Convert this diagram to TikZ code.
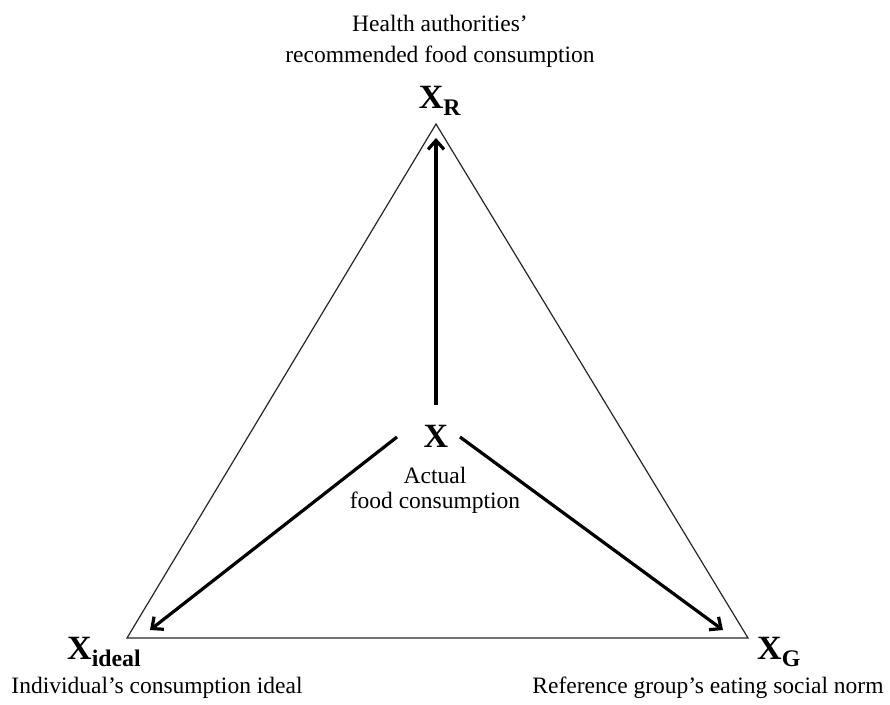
\documentclass[tikz,border=0pt]{standalone}
\usepackage{fontspec}
\setmainfont{Liberation Serif}
\usetikzlibrary{arrows.meta}
\begin{document}
\begin{tikzpicture}[x=1pt,y=-1pt,
  lbl/.style={font=\fontsize{23.5}{31}\selectfont, align=center, inner sep=0pt},
  var/.style={font=\fontsize{34}{38}\selectfont\bfseries, inner sep=0pt},
  tri/.style={draw=black!85, line width=1.2pt},
  arr/.style={draw=black, line width=3.2pt, -{Straight Barb[length=9pt,width=16pt,line width=3.2pt]}}]
\useasboundingbox (0,0) rectangle (890,704);
\coordinate (R) at (436,124);
\coordinate (I) at (127,638);
\coordinate (G) at (748,638);
\draw[tri] (R) -- (I) -- (G) -- cycle;
\node[var] (x) at (436,436) {X};
\node[var] (xr) at (440,101) {X\textsubscript{R}};
\node[var, anchor=west] (xi) at (67,652) {X\textsubscript{ideal}};
\node[var, anchor=west] (xg) at (757,652) {X\textsubscript{G}};
\node[lbl] (top) at (440,41) {Health authorities'\\recommended food consumption};
\node[lbl, font=\fontsize{23.5}{25}\selectfont] (act) at (435,490) {Actual\\food consumption};
\node[lbl] (ind) at (157,688) {Individual's consumption ideal};
\node[lbl] (ref) at (708,688) {Reference group's eating social norm};
\coordinate (tR) at (436,138);
\coordinate (tI) at (150,630);
\coordinate (tG) at (723,630);
\draw[arr] (436,405) -- (tR);
\draw[arr] (397,437) -- (tI);
\draw[arr] (460,437) -- (tG);
\end{tikzpicture}
\end{document}
